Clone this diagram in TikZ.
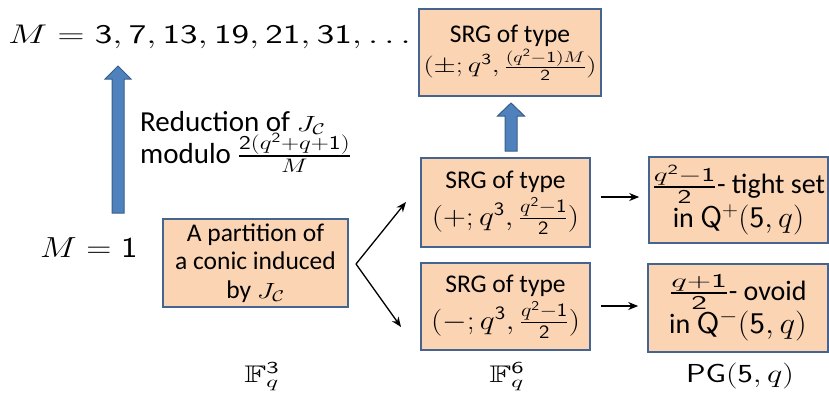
\RequirePackage{fix-cm}
\documentclass[tikz,border=0pt]{standalone}
\usepackage{amssymb}
\usepackage{graphicx}
\usepackage[no-math]{fontspec}
\setmainfont{Carlito}
\DeclareSymbolFont{sfdigits}{OT1}{cmss}{m}{n}
\DeclareMathSymbol{0}{\mathalpha}{sfdigits}{`0}
\DeclareMathSymbol{1}{\mathalpha}{sfdigits}{`1}
\DeclareMathSymbol{2}{\mathalpha}{sfdigits}{`2}
\DeclareMathSymbol{3}{\mathalpha}{sfdigits}{`3}
\DeclareMathSymbol{4}{\mathalpha}{sfdigits}{`4}
\DeclareMathSymbol{5}{\mathalpha}{sfdigits}{`5}
\DeclareMathSymbol{6}{\mathalpha}{sfdigits}{`6}
\DeclareMathSymbol{7}{\mathalpha}{sfdigits}{`7}
\DeclareMathSymbol{8}{\mathalpha}{sfdigits}{`8}
\DeclareMathSymbol{9}{\mathalpha}{sfdigits}{`9}
\usetikzlibrary{arrows.meta,calc}
\definecolor{peach}{HTML}{FBD4B4}
\definecolor{boxblue}{HTML}{45648F}
\definecolor{arrfill}{HTML}{4F81BD}
\definecolor{arrline}{HTML}{385D8A}
\newcommand{\fsz}{\fontsize{25.5}{28.5}\selectfont}
% stretched math: \smath{xscale}{size}{formula}
\newcommand{\smath}[3]{{\fontsize{#2}{#2}\selectfont\scalebox{#1}[1]{$#3$}}}
\begin{document}
\begin{tikzpicture}[x=1pt,y=-1pt,
  box/.style={draw=boxblue, line width=1.6pt, fill=peach, inner sep=0pt, align=center, font=\fsz},
  lbl/.style={inner sep=0pt, font=\fsz},
  blk/.style={draw=black, line width=1.3pt, -{Stealth[length=10pt,width=8pt]}},
  bluearr/.style={fill=arrfill, draw=arrline, line width=1pt, line join=miter}]
\useasboundingbox (0,0) rectangle (829,392);
% boxes
\node[box, minimum width=185pt, minimum height=88pt] (A) at (255.5,263)
  {A partition of\\ a conic induced\\ by \smath{1.3}{22}{J_{\mathcal{C}}}};
\node[box, minimum width=169pt, minimum height=89pt] (sp) at (505.5,202.5)
  {SRG of type\\[4pt] \smath{1.17}{27}{(+;q^3,\frac{q^2-1}{2})}};
\node[box, minimum width=169pt, minimum height=87pt] (sm) at (505.5,306.5)
  {SRG of type\\[4pt] \smath{1.17}{27}{(-;q^3,\frac{q^2-1}{2})}};
\node[box, minimum width=182pt, minimum height=87pt] (top) at (510,52.5)
  {SRG of type\\[2pt] \smath{1.3}{22}{(\pm;q^3,\frac{(q^2-1)M}{2})}};
\node[box, minimum width=179pt, minimum height=86pt, font=\fontsize{28}{32}\selectfont] (tight) at (738.5,200)
  {\smath{1.5}{28}{\frac{q^2-1}{2}}- tight set\\ in \smath{1.05}{30}{\mathsf{Q}^{+}(5,q)}};
\node[box, minimum width=180pt, minimum height=88pt, font=\fontsize{28}{32}\selectfont] (ovoid) at (738,308)
  {\smath{1.7}{28}{\frac{q+1}{2}}- ovoid\\ in \smath{1.1}{30}{\mathsf{Q}^{-}(5,q)}};
% texts
\node[lbl, anchor=base west] (Mlist) at (8,43)
  {\smath{1.38}{27}{M=3,7,13,19,21,31,\ldots}};
\node[lbl, anchor=base west] (M1) at (40,257) {\smath{1.2}{29}{M=1}};
\node[lbl, anchor=base west, font=\fontsize{29}{33}\selectfont] (red) at (140,131)
  {Reduction of \smath{1.35}{22}{J_{\mathcal{C}}}};
\node[lbl, anchor=base west, font=\fontsize{29}{33}\selectfont] (mod) at (140,163)
  {modulo \smath{1.28}{28}{\frac{2(q^2+q+1)}{M}}};
\node[lbl, anchor=base] (F3) at (262,382) {\smath{1.5}{24}{\mathbb{F}_q^3}};
\node[lbl, anchor=base] (F6) at (507,382) {\smath{1.5}{24}{\mathbb{F}_q^6}};
\node[lbl, anchor=base] (PG) at (740,382) {\smath{1.25}{26}{\mathsf{PG}(5,q)}};
% black arrows
\coordinate (v) at (356,264);
\coordinate (e1) at (406,202);
\coordinate (e2) at (401,327);
\draw[blk] (v) -- (e1);
\draw[blk] (v) -- (e2);
\draw[blk, shorten <=10pt, shorten >=9pt] (sp.east |- 0,197) -- (tight.west |- 0,197);
\draw[blk, shorten <=10pt, shorten >=9pt] (sm.east |- 0,306) -- (ovoid.west |- 0,306);
% blue arrows
\coordinate (b1) at (118,213);
\coordinate (t1) at (118,66);
\draw[bluearr] ($(b1)+(-6,0)$) -- ($(t1)+(-6,13)$) -- ($(t1)+(-13,13)$) -- (t1)
  -- ($(t1)+(13,13)$) -- ($(t1)+(6,13)$) -- ($(b1)+(6,0)$) -- cycle;
\coordinate (b2) at (511,151);
\coordinate (t2) at (511,103);
\draw[bluearr] ($(b2)+(-6,0)$) -- ($(t2)+(-6,13)$) -- ($(t2)+(-13.5,13)$) -- (t2)
  -- ($(t2)+(13.5,13)$) -- ($(t2)+(6,13)$) -- ($(b2)+(6,0)$) -- cycle;
\end{tikzpicture}
\end{document}
